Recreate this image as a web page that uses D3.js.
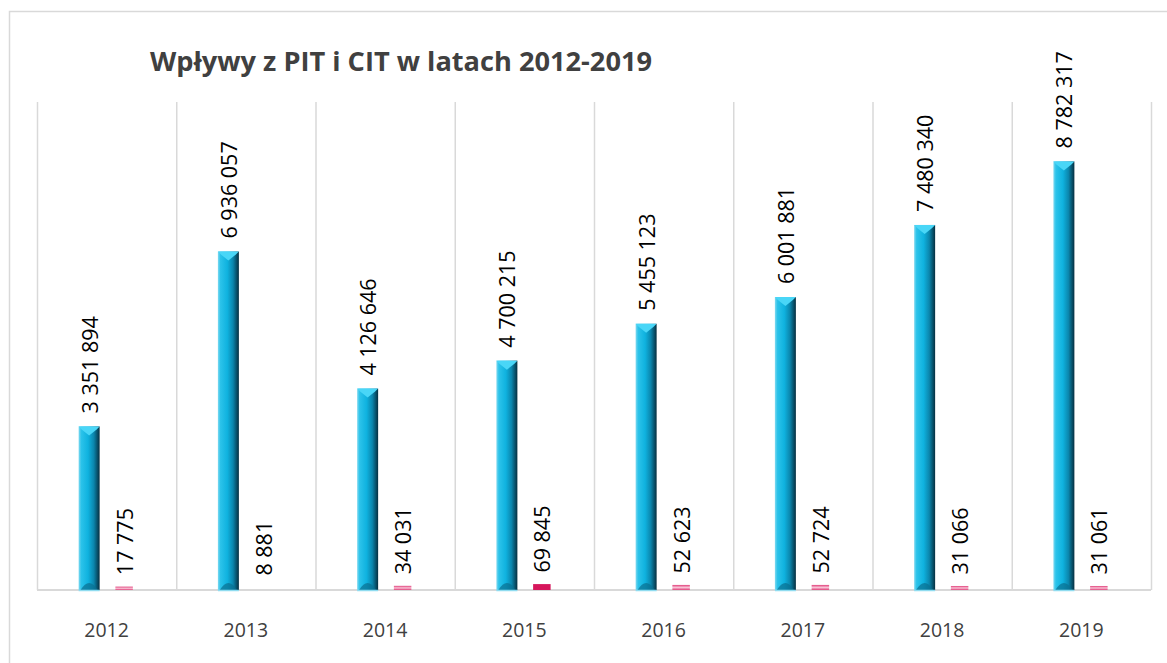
<!DOCTYPE html>
<html><head><meta charset="utf-8">
<script src="https://cdn.jsdelivr.net/npm/d3@7/dist/d3.min.js"></script>
<style>
html,body{margin:0;padding:0;background:#fff;}
svg{display:block;font-family:"Open Sans","Noto Sans",sans-serif;}
</style></head>
<body>
<svg id="chart" width="1167" height="663"></svg>
<script>
const years = ["2012","2013","2014","2015","2016","2017","2018","2019"];
const pitValues = [3351894, 6936057, 4126646, 4700215, 5455123, 6001881, 7480340, 8782317];
const citValues = [17775, 8881, 34031, 69845, 52623, 52724, 31066, 31061];
const seriesNames = ["PIT","CIT"];
const titleText = "Wpływy z PIT i CIT w latach 2012-2019";
const yMax = 10000000;

const W = 1167, H = 663;
const svg = d3.select("#chart");
const plot = {left: 37, right: 1151, top: 102, bottom: 590};

const locale = d3.formatLocale({decimal: ",", thousands: " ", grouping: [3], currency: ["", " zł"]});
const fmt = locale.format(",d");

const defs = svg.append("defs");
const gBlue = defs.append("linearGradient").attr("id","gblue").attr("x1","0").attr("x2","1").attr("y1","0").attr("y2","0");
[["0%","#7fd9f0"],["12%","#2cc3ea"],["45%","#0fb2df"],["72%","#0b86ad"],["100%","#062f40"]]
  .forEach(([o,c]) => gBlue.append("stop").attr("offset",o).attr("stop-color",c));
const gPink = defs.append("linearGradient").attr("id","gpink").attr("x1","0").attr("x2","0").attr("y1","0").attr("y2","1");
[["0%","#e0407a"],["50%","#f9c3d6"],["100%","#e0407a"]]
  .forEach(([o,c]) => gPink.append("stop").attr("offset",o).attr("stop-color",c));

// outer border
svg.append("rect").attr("x",9.5).attr("y",11.5).attr("width",W+20).attr("height",H+20)
  .attr("fill","none").attr("stroke","#d9d9d9").attr("stroke-width",1.5);

const x = d3.scaleBand().domain(years).range([plot.left, plot.right]).padding(0);
const xs = d3.scaleBand().domain(seriesNames).range([0, x.bandwidth()]).paddingInner(0).paddingOuter(0.99);
const y = d3.scaleLinear().domain([0, yMax]).range([plot.bottom, plot.top]);

// vertical gridlines at category boundaries
const bounds = years.map(d => x(d)).concat([x(years[years.length-1]) + x.bandwidth()]);
svg.append("g").selectAll("line").data(bounds).join("line")
  .attr("x1", d => d + 0.5).attr("x2", d => d + 0.5)
  .attr("y1", plot.top).attr("y2", plot.bottom)
  .attr("stroke","#d9d9d9").attr("stroke-width",1.5);

// baseline
svg.append("line").attr("x1",plot.left).attr("x2",plot.right).attr("y1",plot.bottom).attr("y2",plot.bottom)
  .attr("stroke","#d9d9d9").attr("stroke-width",2);

const data = years.map((yr,i) => ({year: yr, PIT: pitValues[i], CIT: citValues[i]}));

// PIT bars
const blueW = xs.bandwidth() * 0.6;
const gb = svg.append("g");
data.forEach(d => {
  const cx = x(d.year) + xs("PIT") + xs.bandwidth()/2;
  const top = y(d.PIT);
  const x0 = cx - blueW/2, x1 = cx + blueW/2;
  gb.append("rect").attr("x",x0).attr("y",top).attr("width",blueW).attr("height",plot.bottom - top)
    .attr("fill","url(#gblue)");
  gb.append("polygon").attr("points",`${x0},${top} ${x1},${top} ${x1-3},${top+3} ${cx},${top+9} ${x0+3},${top+3}`)
    .attr("fill","#49d6f7");
  gb.append("path").attr("d",`M${x0+2},${plot.bottom} Q${cx},${plot.bottom-14} ${x1-2},${plot.bottom} Z`)
    .attr("fill","#0a6f90").attr("opacity",0.7);
  gb.append("line").attr("x1",x0).attr("x2",x1).attr("y1",plot.bottom+0.5).attr("y2",plot.bottom+0.5)
    .attr("stroke","#8fdcf0").attr("stroke-width",1.5);
  gb.append("text")
    .attr("transform",`translate(${cx+1},${top - 13}) rotate(-90)`)
    .attr("dy","0.35em").attr("text-anchor","start")
    .attr("font-size",21.5).attr("fill","#000")
    .text(fmt(d.PIT));
});

// CIT bars
const pinkW = xs.bandwidth() * 0.5;
const gp = svg.append("g");
data.forEach(d => {
  const cx = x(d.year) + xs("CIT") + xs.bandwidth()/2;
  const top = y(d.CIT);
  const h = plot.bottom - top;
  if (h >= 0.6) {
    const cap = 2.5;
    gp.append("rect").attr("x",cx - pinkW/2).attr("y",top - cap).attr("width",pinkW).attr("height",h + cap)
      .attr("fill", h > 3 ? "#d6165b" : "url(#gpink)");
  }
  gp.append("text")
    .attr("transform",`translate(${cx+1},${top - 14}) rotate(-90)`)
    .attr("dy","0.35em").attr("text-anchor","start")
    .attr("font-size",21.5).attr("fill","#000")
    .text(fmt(d.CIT));
});

// category labels
svg.append("g").selectAll("text").data(years).join("text")
  .attr("x", d => x(d) + x.bandwidth()/2).attr("y", 637)
  .attr("text-anchor","middle").attr("font-size",19.5).attr("fill","#404040")
  .text(d => d);

// title
svg.append("text").attr("x",150).attr("y",71)
  .attr("font-size",27.2).attr("font-weight","bold").attr("fill","#404040")
  .text(titleText);
</script>
</body></html>
